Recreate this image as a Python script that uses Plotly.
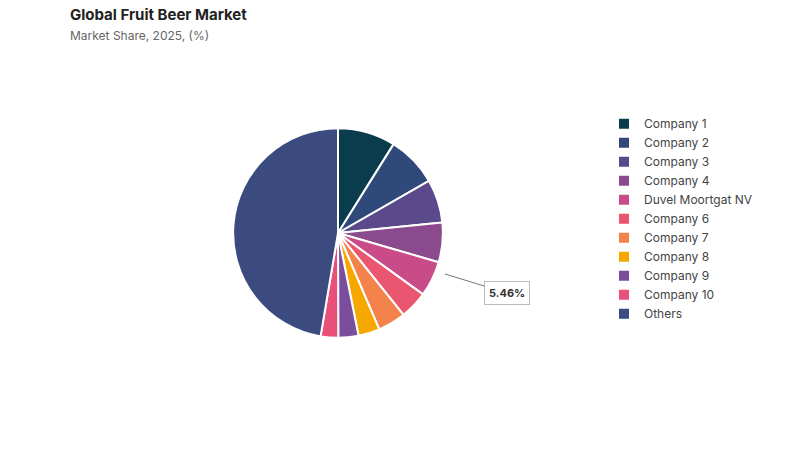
import plotly.graph_objects as go

labels = ['Company 1', 'Company 2', 'Company 3', 'Company 4', 'Duvel Moortgat NV',
          'Company 6', 'Company 7', 'Company 8', 'Company 9', 'Company 10', 'Others']
shares = [8.9, 7.8, 6.7, 6.1, 5.46, 4.3, 4.3, 3.3, 3.1, 2.7, 47.34]
colors = ['#0b3c4d', '#2f4a7a', '#5a4a8c', '#8c4a8e', '#c94b87', '#ea5670',
          '#f4834b', '#f7a800', '#7a4e9c', '#e8507a', '#3b4a7f']

fig = go.Figure()
fig.add_trace(go.Pie(
    labels=labels, values=shares, sort=False, direction='clockwise', rotation=0,
    marker=dict(colors=colors, line=dict(color='white', width=2)),
    textinfo='none', hoverinfo='label+percent',
    domain=dict(x=[0.281, 0.544], y=[0.267, 0.733]),
))

fig.add_annotation(
    x=437 / 800, y=1 - 266 / 450, xref='paper', yref='paper',
    text='<b>5.46%</b>', showarrow=True, arrowhead=0, arrowcolor='#777', arrowwidth=1,
    ax=62, ay=19, bordercolor='#bbb', borderwidth=1, borderpad=4,
    bgcolor='white', font=dict(size=11, color='#333'),
)

fig.update_layout(
    width=800, height=450,
    margin=dict(l=0, r=0, t=0, b=0),
    paper_bgcolor='white',
    font=dict(family='Inter, Roboto, sans-serif', color='#333'),
    title=dict(text='<b>Global Fruit Beer Market</b><br><span style="font-size:12px;color:#666">Market Share, 2025, (%)</span>',
               x=62 / 800, xanchor='left', y=1 - 12 / 450, yanchor='top',
               font=dict(size=15, color='#222')),
    legend=dict(x=0.745, y=0.775, xanchor='left', yanchor='top',
                font=dict(size=12, color='#444'), tracegroupgap=0,
                itemwidth=30),
)

fig.write_html("out.html")
